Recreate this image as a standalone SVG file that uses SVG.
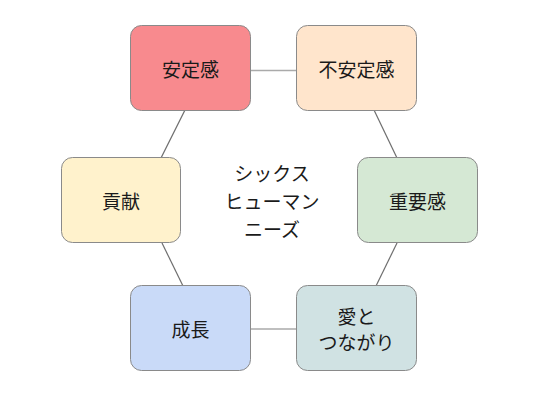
<svg xmlns="http://www.w3.org/2000/svg" width="537" height="409" viewBox="0 0 537 409">
<style>
.box{stroke:#8a8a8a;stroke-width:1}
.lbl{font-family:"Noto Sans CJK JP","Noto Sans",sans-serif;font-size:19px;fill:#1a1a1a;text-anchor:middle;dominant-baseline:central}
.c{stroke:#6e6e6e;stroke-width:1.2;fill:none}
.h{stroke:#aaaaaa;stroke-width:1.6;fill:none}
</style>
<rect width="537" height="409" fill="#ffffff"/>
<g id="connectors">
<line class="h" x1="250" y1="70.5" x2="297" y2="70.5"/>
<line class="h" x1="250" y1="329" x2="297" y2="329"/>
<line class="c" x1="185" y1="110" x2="161" y2="158"/>
<line class="c" x1="374" y1="110" x2="397" y2="158"/>
<line class="c" x1="162" y1="243" x2="183" y2="286"/>
<line class="c" x1="397" y1="243" x2="376" y2="286"/>
</g>
<g id="node-anteikan">
<rect class="box" x="130.5" y="25.5" width="120" height="85" rx="11" fill="#f88a8e"/>
<text class="lbl" x="190.5" y="68">安定感</text>
</g>
<g id="node-fuanteikan">
<rect class="box" x="296.5" y="25.5" width="120" height="85" rx="11" fill="#ffe5cc"/>
<text class="lbl" x="356.5" y="68">不安定感</text>
</g>
<g id="node-koken">
<rect class="box" x="61.5" y="157.5" width="119" height="85" rx="11" fill="#fff2cc"/>
<text class="lbl" x="121" y="200">貢献</text>
</g>
<g id="node-juyokan">
<rect class="box" x="357.5" y="157.5" width="120" height="85" rx="11" fill="#d5e8d4"/>
<text class="lbl" x="417.5" y="200">重要感</text>
</g>
<g id="node-seicho">
<rect class="box" x="130.5" y="285.5" width="120" height="85" rx="11" fill="#c9daf8"/>
<text class="lbl" x="190.5" y="328">成長</text>
</g>
<g id="node-ai">
<rect class="box" x="296.5" y="285.5" width="120" height="85" rx="11" fill="#d0e2e3"/>
<text class="lbl" x="356.5" y="315">愛と</text>
<text class="lbl" x="356.5" y="341">つながり</text>
</g>
<g id="center-title">
<text class="lbl" x="272" y="172">シックス</text>
<text class="lbl" x="272" y="200">ヒューマン</text>
<text class="lbl" x="272" y="228">ニーズ</text>
</g>
</svg>
